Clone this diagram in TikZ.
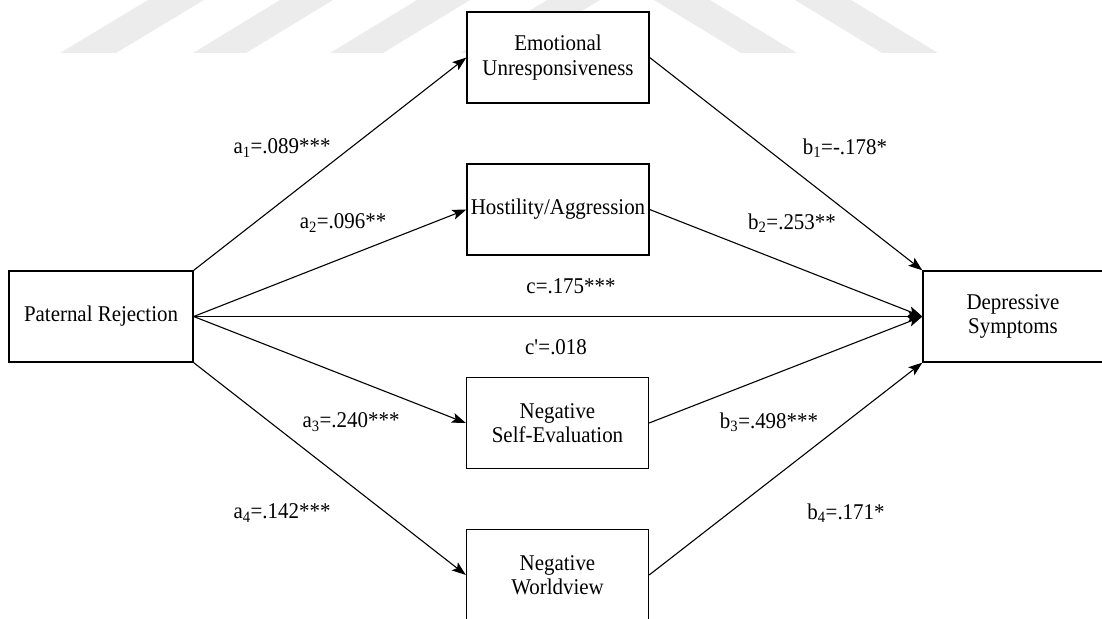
\documentclass[tikz,border=0pt]{standalone}
\usepackage{fontspec}
\setmainfont{Liberation Serif}[FakeStretch=0.93]
\usetikzlibrary{arrows.meta}
\definecolor{wmgray}{RGB}{236,236,236}
\begin{document}
\begin{tikzpicture}[x=1pt,y=-1pt,
  box/.style={draw, line width=1.3pt, fill=white, align=center, inner sep=0pt,
    minimum width=182pt, minimum height=91pt, font=\fontsize{22.5}{24.5}\selectfont},
  conn/.style={line width=1.1pt, -{Stealth[length=14pt,width=10pt,inset=3pt]}},
  lbl/.style={font=\fontsize{22.5}{24}\selectfont, inner sep=0pt},
  wm/.style={fill=wmgray, draw=none}]
\useasboundingbox (0,0) rectangle (1102,618);
% watermark stripes
\fill[wm] (60,53) -- (116,53) -- (204,0) -- (148,0) -- cycle;
\fill[wm] (193,53) -- (246,53) -- (333,0) -- (280,0) -- cycle;
\fill[wm] (330,53) -- (383,53) -- (470,0) -- (417,0) -- cycle;
\fill[wm] (460,53) -- (513,53) -- (600,0) -- (547,0) -- cycle;
\fill[wm] (654,0) -- (710,0) -- (797,53) -- (741,53) -- cycle;
\fill[wm] (795,0) -- (851,0) -- (938,53) -- (882,53) -- cycle;
% boxes
\node[box, minimum width=184pt] (PR) at (101,316.5) {Paternal Rejection};
\node[box] (EU) at (558,57.5) {Emotional\\Unresponsiveness};
\node[box] (HA) at (558,209.5) {Hostility/Aggression};
\node[box] (NSE) at (557.5,423) {Negative\\Self-Evaluation};
\node[box] (NW) at (557.5,575) {Negative\\Worldview};
\node[box, minimum width=180pt] (DS) at (1013,316.5) {Depressive\\Symptoms};
% connectors
\draw[conn] (PR.north east) -- (EU.west);
\draw[conn] (PR.east) -- (HA.west);
\draw[conn] (PR.east) -- (DS.west);
\draw[conn] (PR.east) -- (NSE.west);
\draw[conn] (PR.south east) -- (NW.west);
\draw[conn] (EU.east) -- (DS.north west);
\draw[conn] (HA.east) -- (DS.west);
\draw[conn] (NSE.east) -- (DS.west);
\draw[conn] (NW.east) -- (DS.south west);
% labels
\node[lbl] (la1) at (282,148) {a\textsubscript{1}=.089***};
\node[lbl] (lb1) at (845,148) {b\textsubscript{1}=-.178*};
\node[lbl] (la2) at (343,223) {a\textsubscript{2}=.096**};
\node[lbl] (lb2) at (792,223) {b\textsubscript{2}=.253**};
\node[lbl] (lc) at (571,286) {c=.175***};
\node[lbl] (lcp) at (556,347) {c\textquotesingle=.018};
\node[lbl] (la3) at (351,422) {a\textsubscript{3}=.240***};
\node[lbl] (lb3) at (769,422) {b\textsubscript{3}=.498***};
\node[lbl] (la4) at (282,513) {a\textsubscript{4}=.142***};
\node[lbl] (lb4) at (846,513) {b\textsubscript{4}=.171*};
\end{tikzpicture}
\end{document}
